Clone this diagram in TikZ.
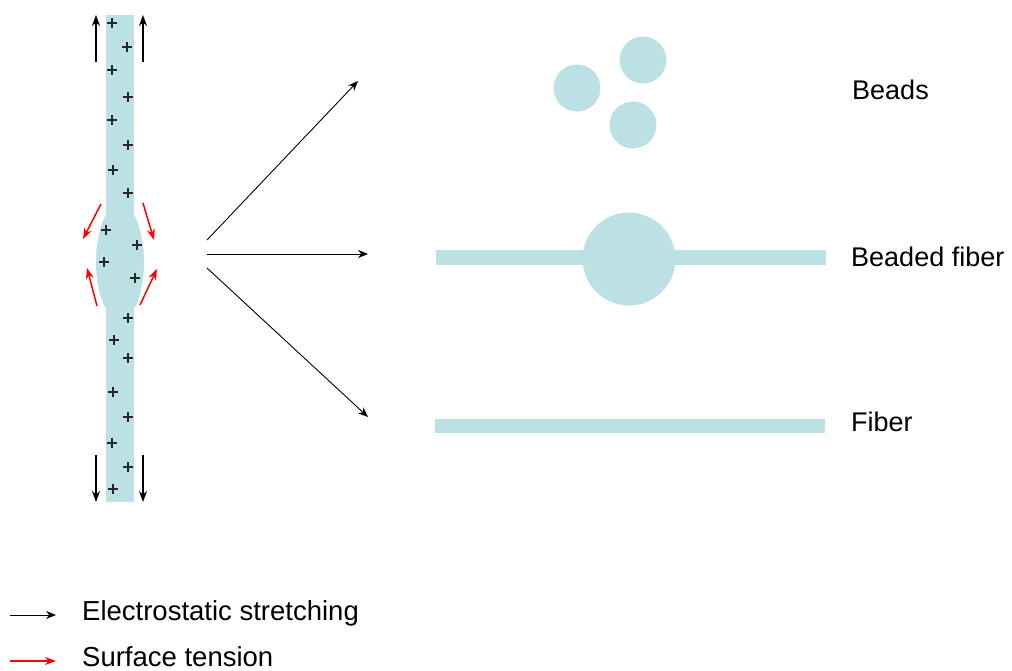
\documentclass[tikz,border=0pt]{standalone}
\usepackage{fontspec}
\setmainfont{Liberation Sans}
\usetikzlibrary{arrows.meta}
\definecolor{fib}{RGB}{188,225,228}
\definecolor{tensred}{RGB}{255,0,0}
\begin{document}
\begin{tikzpicture}[x=1pt,y=-1pt,
  plusmark/.style={draw=black!85,line width=1.3pt},
  stretcharrow/.style={draw=black,line width=1.4pt,-{Stealth[length=11pt,width=8pt]}},
  fanarrow/.style={draw=black,line width=0.9pt,-{Stealth[length=10pt,width=8pt]}},
  tensarrow/.style={draw=tensred,line width=1.5pt,-{Stealth[length=11pt,width=8pt]}},
  lbl/.style={inner sep=0pt,anchor=base west,font=\fontsize{27}{30}\selectfont},
  leg/.style={inner sep=0pt,anchor=base west,font=\fontsize{27.5}{30}\selectfont}]
\useasboundingbox (0,0) rectangle (1012,670);
% jet column
\fill[fib] (106,15) rectangle (134,502);
\fill[fib] (120,262) ellipse [x radius=24, y radius=58];
% charges
\foreach \p/\q in {112/23,127/47,112/70,128/97,112/120,128/145,113/170,128/193,
  106/230,137/245,104/262,135/278,128/318,114/340,128/358,113/392,128/417,112/443,128/467,113/489}
  \draw[plusmark] (\p-5,\q) -- (\p+5,\q) (\p,\q-5) -- (\p,\q+5);
% stretching arrows on the jet
\coordinate (tl0) at (96,62); \coordinate (tl1) at (96,15);
\coordinate (tr0) at (143,62); \coordinate (tr1) at (143,15);
\coordinate (bl0) at (96,455); \coordinate (bl1) at (96,502);
\coordinate (br0) at (143,455); \coordinate (br1) at (143,502);
\draw[stretcharrow] (tl0) -- (tl1);
\draw[stretcharrow] (tr0) -- (tr1);
\draw[stretcharrow] (bl0) -- (bl1);
\draw[stretcharrow] (br0) -- (br1);
% surface tension arrows
\coordinate (a0) at (101,204); \coordinate (a1) at (83,239);
\coordinate (b0) at (143,203); \coordinate (b1) at (154,240);
\coordinate (c0) at (97,306); \coordinate (c1) at (87,268);
\coordinate (d0) at (140,305); \coordinate (d1) at (157,269);
\draw[tensarrow] (a0) -- (a1);
\draw[tensarrow] (b0) -- (b1);
\draw[tensarrow] (c0) -- (c1);
\draw[tensarrow] (d0) -- (d1);
% fan arrows
\coordinate (f1) at (207,240); \coordinate (g1) at (358,81);
\coordinate (f2) at (207,254); \coordinate (g2) at (368,254);
\coordinate (f3) at (207,268); \coordinate (g3) at (368,417);
\draw[fanarrow] (f1) -- (g1);
\draw[fanarrow] (f2) -- (g2);
\draw[fanarrow] (f3) -- (g3);
% beads
\fill[fib] (577,88) circle (23.5);
\fill[fib] (643,60) circle (23.5);
\fill[fib] (633,125) circle (23.5);
% beaded fiber
\fill[fib] (436,250) rectangle (826,265);
\fill[fib] (629,259) circle (46.5);
% fiber
\fill[fib] (435,419) rectangle (825,433);
% labels
\node[lbl] (beads) at (852,99) {Beads};
\node[lbl] (bfib) at (851,266) {Beaded fiber};
\node[lbl] (fiber) at (851,431) {Fiber};
% legend
\coordinate (l1a) at (10,615); \coordinate (l1b) at (56,615);
\coordinate (l2a) at (10,661); \coordinate (l2b) at (56,661);
\draw[fanarrow,line width=1pt] (l1a) -- (l1b);
\draw[tensarrow,line width=1.2pt] (l2a) -- (l2b);
\node[leg] (es) at (82,620) {Electrostatic stretching};
\node[leg] (st) at (82,666) {Surface tension};
\end{tikzpicture}
\end{document}
